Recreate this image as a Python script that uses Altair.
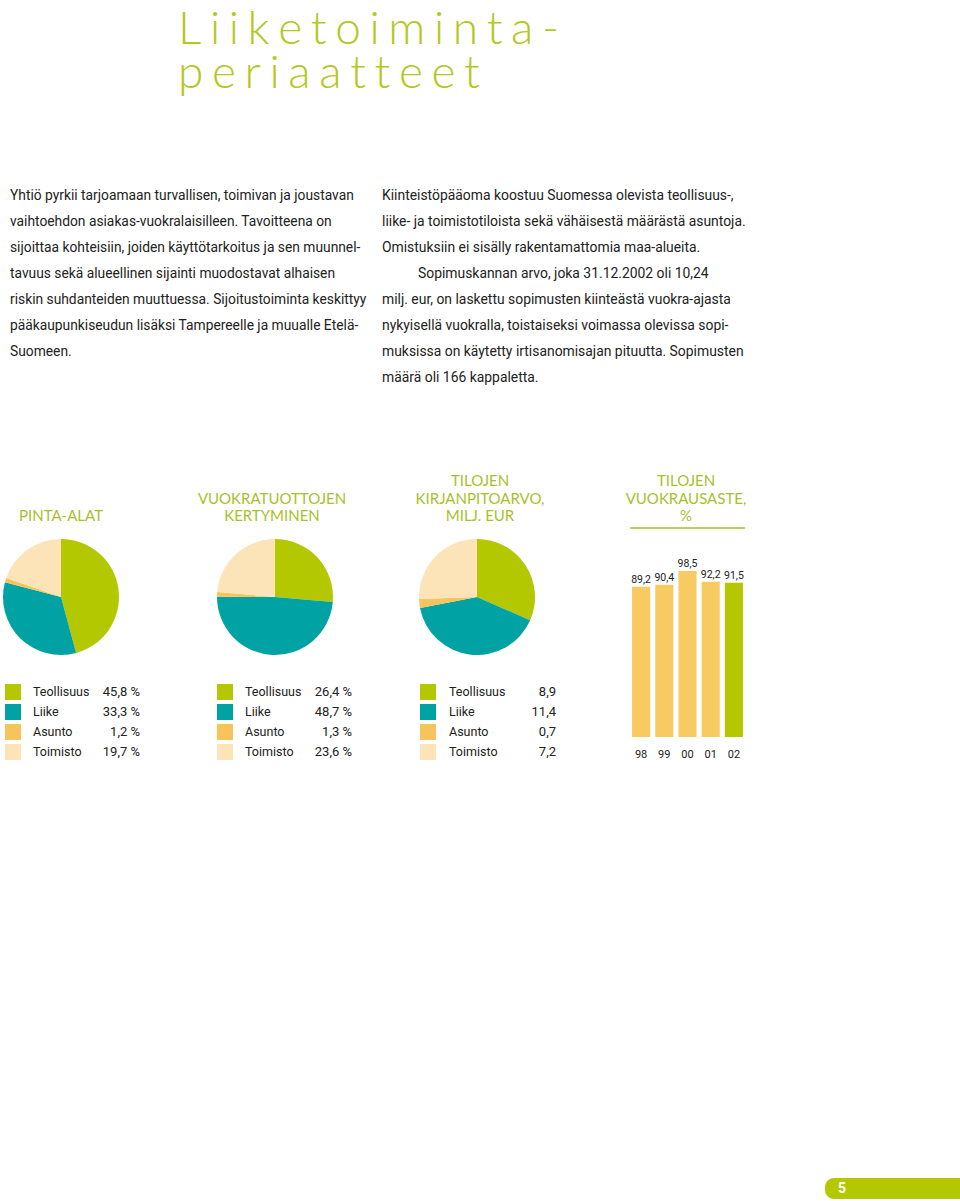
import altair as alt
import pandas as pd

# ---------------- data ----------------
HS = "\u200a" * 3  # narrow gap used for the letter-spaced heading
title_words = ["Liiketoiminta-", "periaatteet"]
title_lines = [HS.join(list(w)) for w in title_words]

left_lines = [
    "Yhtiö pyrkii tarjoamaan turvallisen, toimivan ja joustavan",
    "vaihtoehdon asiakas-vuokralaisilleen. Tavoitteena on",
    "sijoittaa kohteisiin, joiden käyttötarkoitus ja sen muunnel-",
    "tavuus sekä alueellinen sijainti muodostavat alhaisen",
    "riskin suhdanteiden muuttuessa. Sijoitustoiminta keskittyy",
    "pääkaupunkiseudun lisäksi Tampereelle ja muualle Etelä-",
    "Suomeen.",
]
right_p1 = [
    "Kiinteistöpääoma koostuu Suomessa olevista teollisuus-,",
    "liike- ja toimistotiloista sekä vähäisestä määrästä asuntoja.",
    "Omistuksiin ei sisälly rakentamattomia maa-alueita.",
]
right_p2_first = ["Sopimuskannan arvo, joka 31.12.2002 oli 10,24"]
right_p2_rest = [
    "milj. eur, on laskettu sopimusten kiinteästä vuokra-ajasta",
    "nykyisellä vuokralla, toistaiseksi voimassa olevissa sopi-",
    "muksissa on käytetty irtisanomisajan pituutta. Sopimusten",
    "määrä oli 166 kappaletta.",
]

chart_titles = [
    ["PINTA-ALAT"],
    ["VUOKRATUOTTOJEN", "KERTYMINEN"],
    ["TILOJEN", "KIRJANPITOARVO,", "MILJ. EUR"],
    ["TILOJEN", "VUOKRAUSASTE,", "%"],
]

categories = ["Teollisuus", "Liike", "Asunto", "Toimisto"]
pinta_alat = [45.8, 33.3, 1.2, 19.7]
vuokratuotot = [26.4, 48.7, 1.3, 23.6]
kirjanpitoarvo = [8.9, 11.4, 0.7, 7.2]

years = ["98", "99", "00", "01", "02"]
vuokrausaste = [89.2, 90.4, 98.5, 92.2, 91.5]

page_number = "5"

# ---------------- styles ----------------
GREEN = "#b3c800"
TEAL = "#00a2a4"
ASUNTO = "#f6c45a"
TOIMISTO = "#fde3b8"
BAR = "#f8ca62"
TITLE_GREEN = "#b4c71e"
HEAD_GREEN = "#a8bf2c"
TEXT = "#222222"
palette = [GREEN, TEAL, ASUNTO, TOIMISTO]

BODY_FONT = "Roboto"
HEAD_FONT = "Lato"


def text_block(lines, x, y0, step, size, color, font, align="left",
               weight="normal", baseline="middle"):
    df = pd.DataFrame({"line": lines, "i": list(range(len(lines)))})
    n = max(len(lines) - 1, 1)
    return alt.Chart(df).mark_text(
        align=align, baseline=baseline, fontSize=size, font=font,
        color=color, fontWeight=weight,
    ).encode(
        x=alt.value(x),
        y=alt.Y("i:Q", scale=alt.Scale(domain=[0, n], range=[y0, y0 + n * step],
                                       nice=False, zero=False), axis=None),
        text="line:N",
    )


layers = []

# big title
layers.append(text_block(title_lines, 178, 44, 44, 46, TITLE_GREEN, HEAD_FONT,
                         weight=300, baseline="alphabetic"))

# body text
layers.append(text_block(left_lines, 10, 196, 26, 13.8, TEXT, BODY_FONT))
layers.append(text_block(right_p1, 382, 196, 26, 13.9, TEXT, BODY_FONT))
layers.append(text_block(right_p2_first, 418, 274, 26, 13.9, TEXT, BODY_FONT))
layers.append(text_block(right_p2_rest, 382, 300, 26, 13.9, TEXT, BODY_FONT))

# chart headings
head_centers = [61, 272, 480, 686]
for lines, cx in zip(chart_titles, head_centers):
    y_last = 516
    y0 = y_last - (len(lines) - 1) * 17.5
    layers.append(text_block(lines, cx, y0, 17.5, 15, HEAD_GREEN, HEAD_FONT,
                             align="center"))

# rule under bar heading
layers.append(
    alt.Chart(pd.DataFrame({"a": [0]})).mark_rule(color=HEAD_GREEN, strokeWidth=1.5)
    .encode(x=alt.value(630), x2=alt.value(745), y=alt.value(528))
)

# pies
pie_centers = [61, 275, 477]
for vals, cx in zip([pinta_alat, vuokratuotot, kirjanpitoarvo], pie_centers):
    df = pd.DataFrame({"cat": categories, "value": vals, "idx": list(range(4))})
    layers.append(
        alt.Chart(df).mark_arc(radius=58).encode(
            theta=alt.Theta("value:Q", stack=True),
            color=alt.Color("cat:N", scale=alt.Scale(domain=categories, range=palette),
                            legend=None),
            order=alt.Order("idx:Q"),
            x=alt.value(cx),
            y=alt.value(597),
        )
    )

# legends
legend_specs = [
    (pinta_alat, 13, 33, 140, " %"),
    (vuokratuotot, 225, 245, 352, " %"),
    (kirjanpitoarvo, 428, 449, 556, ""),
]
for vals, sx, lx, vx, suffix in legend_specs:
    df = pd.DataFrame({"cat": categories, "value": vals})
    yenc = alt.Y("cat:N", sort=categories,
                 scale=alt.Scale(domain=categories, range=[692, 752], padding=0),
                 axis=None)
    layers.append(
        alt.Chart(df).mark_square(size=256, opacity=1).encode(
            x=alt.value(sx), y=yenc,
            color=alt.Color("cat:N", scale=alt.Scale(domain=categories, range=palette),
                            legend=None),
        )
    )
    layers.append(
        alt.Chart(df).mark_text(align="left", baseline="middle", fontSize=12.5,
                                font=BODY_FONT, color=TEXT)
        .encode(x=alt.value(lx), y=yenc, text="cat:N")
    )
    layers.append(
        alt.Chart(df).transform_calculate(
            lab=f"replace(format(datum.value, '.1f'), '.', ',') + '{suffix}'"
        ).mark_text(align="right", baseline="middle", fontSize=13,
                    font=BODY_FONT, color=TEXT)
        .encode(x=alt.value(vx), y=yenc, text="lab:N")
    )

# bar chart
bdf = pd.DataFrame({"year": years, "value": vuokrausaste})
xenc = alt.X("year:N", sort=years,
             scale=alt.Scale(domain=years, range=[629.5, 745.5],
                             paddingInner=0.22, paddingOuter=0.11),
             axis=None)
yenc = alt.Y("value:Q", scale=alt.Scale(domain=[0, 100], range=[737, 568.5],
                                        nice=False, zero=True), axis=None)
layers.append(
    alt.Chart(bdf).mark_bar().encode(
        x=xenc, y=yenc,
        color=alt.condition(alt.datum.year == years[-1], alt.value(GREEN), alt.value(BAR)),
    )
)
layers.append(
    alt.Chart(bdf).transform_calculate(
        lab="replace(format(datum.value, '.1f'), '.', ',')"
    ).mark_text(baseline="bottom", dy=-2, fontSize=10.5, font=BODY_FONT, color=TEXT)
    .encode(x=xenc, y=yenc, text="lab:N")
)
layers.append(
    alt.Chart(bdf).mark_text(baseline="middle", fontSize=11, font=BODY_FONT, color=TEXT)
    .encode(x=xenc, y=alt.value(755), text="year:N")
)

# page number tab
layers.append(
    alt.Chart(pd.DataFrame({"a": [0]})).mark_rect(color=GREEN, cornerRadius=9)
    .encode(x=alt.value(825), x2=alt.value(990), y=alt.value(1178), y2=alt.value(1199))
)
layers.append(
    alt.Chart(pd.DataFrame({"t": [page_number]})).mark_text(
        align="left", baseline="middle", fontSize=14, fontWeight="bold",
        font=BODY_FONT, color="white")
    .encode(x=alt.value(838), y=alt.value(1189), text="t:N")
)

chart = alt.layer(*layers).resolve_scale(
    x="independent", y="independent", theta="independent", color="independent"
).properties(
    width=960, height=1201, padding=0,
    autosize=alt.AutoSizeParams(type="none"),
    background="white",
).configure_view(stroke=None)

chart.save("out.html", embed_options={"renderer": "svg", "actions": False})
